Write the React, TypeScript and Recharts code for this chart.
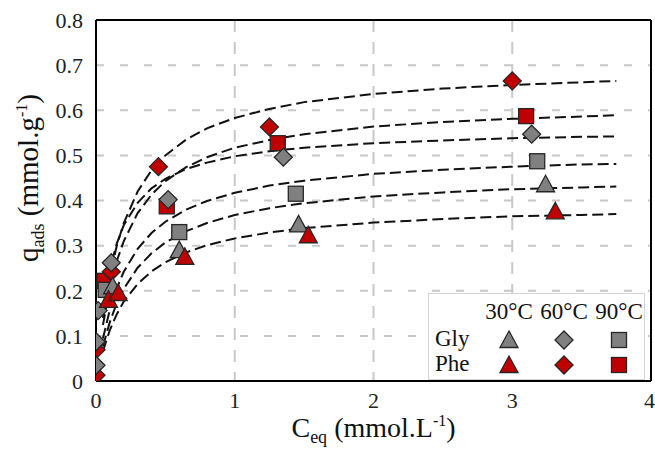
import React from 'react';
import { ScatterChart, Scatter, XAxis, YAxis, CartesianGrid, ReferenceLine } from 'recharts';

const FONT = '"Liberation Serif", "Times New Roman", serif';
const RED = '#C00000';
const GREY = '#808080';
const EDGE = '#262626';

const xTicks = [0, 1, 2, 3, 4];
const yTicks = [0, 0.1, 0.2, 0.3, 0.4, 0.5, 0.6, 0.7, 0.8];
const tempLabels = ['30°C', '60°C', '90°C'];
const rowLabels = ['Gly', 'Phe'];

// measured points
const gly30 = [{ x: 0.12, y: 0.21 }, { x: 0.6, y: 0.29 }, { x: 1.46, y: 0.347 }, { x: 3.24, y: 0.436 }];
const phe30 = [{ x: 0.09, y: 0.18 }, { x: 0.16, y: 0.195 }, { x: 0.64, y: 0.275 }, { x: 1.53, y: 0.323 }, { x: 3.31, y: 0.376 }];
const gly60 = [{ x: 0, y: 0.035 }, { x: 0, y: 0.087 }, { x: 0.015, y: 0.156 }, { x: 0.11, y: 0.262 }, { x: 0.52, y: 0.402 }, { x: 1.35, y: 0.496 }, { x: 3.14, y: 0.547 }];
const phe60 = [{ x: 0, y: 0.013 }, { x: 0, y: 0.069 }, { x: 0.11, y: 0.242 }, { x: 0.45, y: 0.475 }, { x: 1.25, y: 0.563 }, { x: 3.0, y: 0.665 }];
const gly90 = [{ x: 0.07, y: 0.202 }, { x: 0.6, y: 0.33 }, { x: 1.44, y: 0.415 }, { x: 3.18, y: 0.487 }];
const phe90 = [{ x: 0.06, y: 0.222 }, { x: 0.51, y: 0.387 }, { x: 1.31, y: 0.527 }, { x: 3.1, y: 0.587 }];

// fitted curves
const curveX = [0.05, 0.1, 0.15, 0.2, 0.3, 0.4, 0.5, 0.65, 0.8, 1, 1.25, 1.5, 2, 2.5, 3, 3.5, 3.75];
const fitPhe60 = [0.14, 0.233, 0.3, 0.35, 0.42, 0.467, 0.5, 0.535, 0.56, 0.583, 0.603, 0.618, 0.636, 0.648, 0.656, 0.662, 0.665];
const fitPhe90 = [0.124, 0.207, 0.266, 0.31, 0.372, 0.413, 0.443, 0.474, 0.496, 0.517, 0.534, 0.547, 0.564, 0.574, 0.581, 0.586, 0.589];
const fitGly60 = [0.16, 0.249, 0.305, 0.345, 0.395, 0.427, 0.448, 0.47, 0.484, 0.498, 0.509, 0.517, 0.527, 0.533, 0.538, 0.541, 0.542];
const fitGly90 = [0.094, 0.158, 0.206, 0.242, 0.293, 0.328, 0.353, 0.38, 0.399, 0.417, 0.433, 0.444, 0.459, 0.468, 0.475, 0.48, 0.481];
const fitGly30 = [0.077, 0.131, 0.173, 0.204, 0.251, 0.283, 0.307, 0.332, 0.35, 0.368, 0.383, 0.394, 0.409, 0.418, 0.425, 0.429, 0.431];
const fitPhe30 = [0.066, 0.113, 0.148, 0.176, 0.215, 0.243, 0.263, 0.285, 0.301, 0.316, 0.329, 0.339, 0.351, 0.359, 0.365, 0.368, 0.37];

const fits = [fitPhe60, fitPhe90, fitGly60, fitGly90, fitGly30, fitPhe30].map((ys) =>
  ys.map((y, i) => ({ x: curveX[i], y }))
);

const Triangle = ({ cx, cy, fill }: any) => (
  <polygon points={`${cx},${cy - 9} ${cx + 9},${cy + 7.5} ${cx - 9},${cy + 7.5}`} fill={fill} stroke={EDGE} strokeWidth={1.3} />
);
const Diamond = ({ cx, cy, fill }: any) => (
  <polygon points={`${cx},${cy - 9} ${cx + 9},${cy} ${cx},${cy + 9} ${cx - 9},${cy}`} fill={fill} stroke={EDGE} strokeWidth={1.3} />
);
const Square = ({ cx, cy, fill }: any) => (
  <rect x={cx - 7.5} y={cy - 7.5} width={15} height={15} fill={fill} stroke={EDGE} strokeWidth={1.3} />
);

const XTitle = (props: any) => {
  const { x, width, y } = props.viewBox;
  return (
    <text x={x + width / 2} y={y + 56} textAnchor="middle" fontFamily={FONT} fontSize={28} fill="#111">
      C<tspan fontSize={18} dy={6}>eq</tspan>
      <tspan dy={-6}> (mmol.L</tspan>
      <tspan fontSize={16} dy={-11}>-1</tspan>
      <tspan dy={11}>)</tspan>
    </text>
  );
};

const YTitle = () => (
  <text x={0} y={0} transform="translate(38,178) rotate(-90)" textAnchor="middle" fontFamily={FONT} fontSize={29} fill="#111">
    q<tspan fontSize={18} dy={6}>ads</tspan>
    <tspan dy={-6}> (mmol.g</tspan>
    <tspan fontSize={16} dy={-11}>-1</tspan>
    <tspan dy={11}>)</tspan>
  </text>
);

const LegendBox = () => {
  const cols = [81, 136, 191];
  const rows = [47, 72];
  const shapes = [Triangle, Diamond, Square];
  return (
    <div style={{ position: 'absolute', left: 428, top: 293, width: 217, height: 87, background: '#fff', border: '1px solid #d4d4d4', boxSizing: 'border-box' }}>
      <svg width={217} height={87} style={{ position: 'absolute', left: -1, top: -1 }}>
        {tempLabels.map((t, i) => (
          <text key={t} x={cols[i]} y={26} textAnchor="middle" fontFamily={FONT} fontSize={23} fill="#111">{t}</text>
        ))}
        {rowLabels.map((r, j) => (
          <g key={r}>
            <text x={7} y={rows[j] + 6} fontFamily={FONT} fontSize={23} fill="#111">{r}</text>
            {shapes.map((S, i) => (
              <S key={i} cx={cols[i]} cy={rows[j]} fill={j === 0 ? GREY : RED} />
            ))}
          </g>
        ))}
      </svg>
    </div>
  );
};

export default function App() {
  const tick = { fontFamily: FONT, fontSize: 22, fill: '#222' };
  return (
    <div style={{ position: 'absolute', left: 0, top: 0, width: 655, height: 450, background: '#fff' }}>
      <ScatterChart width={655} height={450} margin={{ top: 20, right: 4, bottom: 0, left: 0 }}>
        <CartesianGrid vertical={false} stroke="#c8c8c8" strokeWidth={2} strokeDasharray="8 16" />
        <CartesianGrid horizontal={false} stroke="#c8c8c8" strokeWidth={2} strokeDasharray="12 10" />
        <XAxis type="number" dataKey="x" domain={[0, 4]} ticks={xTicks} allowDataOverflow
          tickLine={false} tickSize={0} tickMargin={11} height={69} tick={tick}
          axisLine={{ stroke: '#000', strokeWidth: 2 }} label={{ content: XTitle }} />
        <YAxis type="number" dataKey="y" domain={[0, 0.8]} ticks={yTicks} allowDataOverflow
          tickLine={false} tickSize={0} tickMargin={13} width={96} tick={tick}
          axisLine={{ stroke: '#000', strokeWidth: 2 }} label={{ content: YTitle }} />
        <ReferenceLine y={0.8} stroke="#000" strokeWidth={2} />
        <ReferenceLine x={4} stroke="#000" strokeWidth={2} />
        {fits.map((d, i) => (
          <Scatter key={i} data={d} isAnimationActive={false} lineType="joint"
            line={{ stroke: '#111', strokeWidth: 2, strokeDasharray: '11 5' }} shape={() => <g />} />
        ))}
        <Scatter data={phe90} isAnimationActive={false} shape={(p: any) => <Square cx={p.cx} cy={p.cy} fill={RED} />} />
        <Scatter data={gly90} isAnimationActive={false} shape={(p: any) => <Square cx={p.cx} cy={p.cy} fill={GREY} />} />
        <Scatter data={phe60} isAnimationActive={false} shape={(p: any) => <Diamond cx={p.cx} cy={p.cy} fill={RED} />} />
        <Scatter data={gly60} isAnimationActive={false} shape={(p: any) => <Diamond cx={p.cx} cy={p.cy} fill={GREY} />} />
        <Scatter data={gly30} isAnimationActive={false} shape={(p: any) => <Triangle cx={p.cx} cy={p.cy} fill={GREY} />} />
        <Scatter data={phe30} isAnimationActive={false} shape={(p: any) => <Triangle cx={p.cx} cy={p.cy} fill={RED} />} />
      </ScatterChart>
      <LegendBox />
    </div>
  );
}
